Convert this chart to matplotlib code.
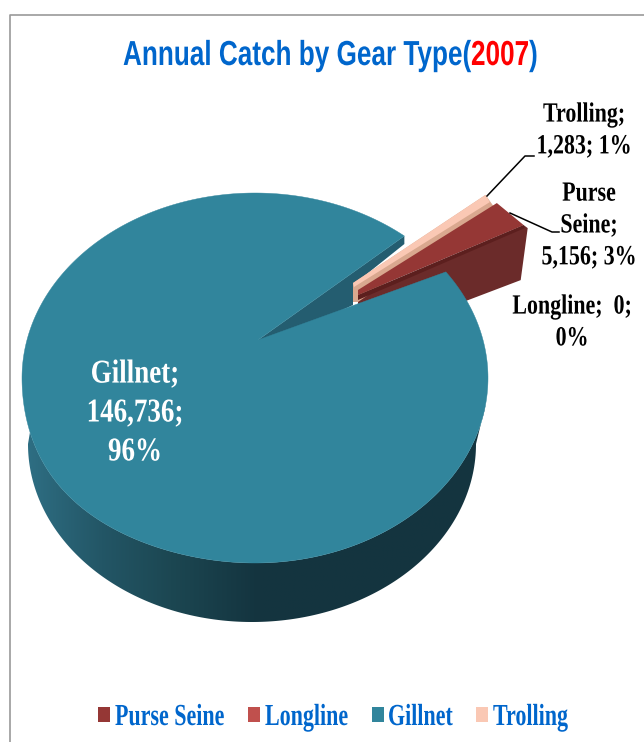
import numpy as np
import matplotlib
matplotlib.use("Agg")
import matplotlib.pyplot as plt
from matplotlib.colors import LinearSegmentedColormap
from matplotlib.patches import Polygon, Rectangle
from matplotlib.patheffects import AbstractPathEffect
from matplotlib.text import Text
from matplotlib.transforms import Affine2D, Bbox

# Catch by gear type, 2007
gears = ["Purse Seine", "Longline", "Gillnet", "Trolling"]
catch = [5156, 0, 146736, 1283]
shares = ["3%", "0%", "96%", "1%"]
colors = ["#953735", "#c0504d", "#31859c", "#fac8b4"]
side_colors = ["#6b2b2a", "#5c1f1e", "#245d70", "#d9a88f"]
legend_box_x = [98, 248, 372, 476]
legend_text_x = [115, 265, 388, 493]

BLUE = "#0066cc"
SERIF = ["Liberation Serif", "DejaVu Serif"]
SANS = ["Liberation Sans", "DejaVu Sans"]

# Pie geometry in pixel units
CX, CY, RX, RY = 255.0, 378.0, 233.0, 185.0
BX, BY, BRX, BRY = 252.0, 444.0, 224.0, 178.0
APEX = np.array([258.0, 340.0])
SMALL_APEX = np.array([358.0, 290.0])
SMALL_SCALE = 0.8
SMALL_SHIFT = np.array([116.0, -68.0])
SMALL_DEPTH = 52.0
START_DEG = 35.0


class _LineSqueeze(AbstractPathEffect):
    """Condense each drawn line of glyphs about the line's own origin."""

    def __init__(self, factor):
        super().__init__()
        self.factor = factor

    def draw_path(self, renderer, gc, tpath, affine, rgbFace=None):
        x0 = affine.get_matrix()[0, 2]
        narrowed = affine + Affine2D().translate(-x0, 0).scale(self.factor, 1).translate(x0, 0)
        renderer.draw_path(gc, tpath, narrowed, rgbFace)


class NarrowText(Text):
    """Text whose layout and glyphs are condensed horizontally by a fixed factor."""

    def __init__(self, x, y, s, squeeze=0.8, **kw):
        super().__init__(x, y, s, **kw)
        self.squeeze = squeeze
        self.set_path_effects([_LineSqueeze(squeeze)])

    def _get_layout(self, renderer):
        box, info, descent = super()._get_layout(renderer)
        k = self.squeeze
        narrow_box = Bbox([[box.x0 * k, box.y0], [box.x1 * k, box.y1]])
        narrow_info = [(line, (wh[0] * k, wh[1]), x * k, y) for line, wh, x, y in info]
        return narrow_box, narrow_info, descent


def rim(deg, scale=1.0, shift=(0.0, 0.0)):
    t = np.radians(np.atleast_1d(deg))
    x = CX + scale * RX * np.cos(t) + shift[0]
    y = CY - scale * RY * np.sin(t) + shift[1]
    # The lower left of the top face bulges slightly under the tilt
    lower_left = (t % (2 * np.pi) > np.pi) & (t % (2 * np.pi) < 1.5 * np.pi)
    x = x - np.where(lower_left, 7.0 * np.sin(2 * t) ** 2, 0.0)
    return np.column_stack([x, y])


def base(deg):
    t = np.radians(np.atleast_1d(deg))
    return np.column_stack([BX + BRX * np.cos(t), BY - BRY * np.sin(t)])


fig = plt.figure(figsize=(6.44, 7.42), dpi=100)
ax = fig.add_axes([0, 0, 1, 1])
ax.set_xlim(0, 644)
ax.set_ylim(742, 0)
ax.axis("off")


def put(x, y, s, squeeze, **kw):
    t = NarrowText(x, y, s, squeeze=squeeze, zorder=7, **kw)
    ax.add_artist(t)
    t.set_clip_on(False)
    return t


# Chart frame: only the top and left edges fall inside the canvas
ax.plot([10, 10, 644], [742, 14.5, 14.5], color="#9a9a9a", lw=1.2, zorder=1)

# Sweep of each slice, counter-clockwise from the notch
total = sum(catch)
sweep = {g: v / total * 360.0 for g, v in zip(gears, catch)}
purse_a0 = START_DEG
purse_a1 = purse_a0 + sweep["Purse Seine"]
long_a1 = purse_a1 + sweep["Longline"]
troll_a1 = long_a1 + sweep["Trolling"]
gill_a0 = troll_a1
gill_a1 = gill_a0 + sweep["Gillnet"]

# Detached small slices sit behind the big slice
p0 = rim(purse_a0, SMALL_SCALE, SMALL_SHIFT)[0]
p1 = rim(purse_a1, SMALL_SCALE, SMALL_SHIFT)[0] + [-1, 1.5]
t0 = rim(long_a1, SMALL_SCALE, SMALL_SHIFT)[0] + [-8, 0.5]
t1 = rim(troll_a1, SMALL_SCALE, SMALL_SHIFT)[0] + [-5, -1.5]
troll_apex = SMALL_APEX + [-5, -7]

ax.add_patch(Polygon([SMALL_APEX + [0, 6], p0, p0 + [4, 3], p0 + [-3, SMALL_DEPTH + 3],
                      SMALL_APEX + [0, SMALL_DEPTH]],
                     fc=side_colors[0], ec="none", zorder=3))
ax.add_patch(Polygon([troll_apex, t1, t0 + [5, 6], SMALL_APEX + [0, 12], troll_apex + [0, 19]],
                     fc=side_colors[3], ec="none", zorder=3))
ax.add_patch(Polygon([troll_apex, t1, t0, troll_apex + [1, 4]],
                     fc=colors[3], ec="none", zorder=3.2))
ax.add_patch(Polygon([SMALL_APEX, p1, p0, SMALL_APEX + [0, 5]],
                     fc=colors[0], ec="none", zorder=3.3))
ax.add_patch(Polygon([SMALL_APEX + [0, 5], p0, p0 + [1, 3], SMALL_APEX + [0, 10]],
                     fc=side_colors[1], ec="none", zorder=3.4))

# Rim wall of the big slice, with a dark ramp running left to right
wall_cmap = LinearSegmentedColormap.from_list(
    "wall", [(0.0, "#2f7085"), (0.17, "#235666"), (0.32, "#1c4752"),
             (0.51, "#14343f"), (1.0, "#143540")])
wall_edge = np.vstack([rim(np.linspace(197, 352, 300)), base(np.linspace(360, 180, 300))])
wall_clip = Polygon(wall_edge, fc="none", ec="none", transform=ax.transData, zorder=4)
ax.add_patch(wall_clip)
ramp = ax.imshow(np.linspace(0, 1, 256)[None, :], cmap=wall_cmap, aspect="auto",
                 extent=(22, 487, 630, 380), zorder=4, interpolation="bilinear")
ramp.set_clip_path(wall_clip)
ax.set_xlim(0, 644)
ax.set_ylim(742, 0)

# Inner wall seen through the notch
n = rim(gill_a0)[0]
ax.add_patch(Polygon([APEX, n, n + [0, 8], troll_apex + [0, 2], troll_apex + [0, 22], APEX + [0, 10]],
                     fc=side_colors[2], ec="none", zorder=2))

# Top face of the big slice
arc = rim(np.linspace(gill_a0, gill_a1, 500))
ax.add_patch(Polygon(np.vstack([APEX, arc]), fc=colors[2], ec=colors[2], lw=0.3, zorder=5))

# Title in three colored runs, laid end to end
renderer = fig.canvas.get_renderer()
cursor = 123.0
for piece, col in zip(["Annual Catch by Gear Type(", "2007", ")"], [BLUE, "#ff0000", BLUE]):
    run = put(cursor, 65, piece, 0.753, color=col, fontsize=25, fontweight="bold",
              family=SANS, ha="left", va="baseline")
    cursor = run.get_window_extent(renderer).x1

# Slice labels
label_kw = dict(family=SERIF, fontweight="bold", ha="center", va="center")
put(135, 413, f"{gears[2]};\n{catch[2]:,};\n{shares[2]}", 0.81, color="white",
    fontsize=24, linespacing=1.33, **label_kw)
put(584, 131, f"{gears[3]};\n{catch[3]:,}; {shares[3]}", 0.79, color="black",
    fontsize=20, linespacing=1.36, **label_kw)
put(589, 226, f"Purse\nSeine;\n{catch[0]:,}; {shares[0]}", 0.79, color="black",
    fontsize=20, linespacing=1.36, **label_kw)
put(572, 323, f"{gears[1]};  {catch[1]};\n{shares[1]}", 0.79, color="black",
    fontsize=20, linespacing=1.36, **label_kw)

# Leader lines
ax.plot([487, 525, 534], [196, 156, 156], color="black", lw=1.1, zorder=6)
ax.plot([510, 552, 559], [213, 232, 232], color="black", lw=1.1, zorder=6)

# Legend row
for bx, tx, g, c in zip(legend_box_x, legend_text_x, gears, colors):
    ax.add_patch(Rectangle((bx, 707), 12, 15, fc=c, ec="none", zorder=6))
    put(tx, 725, g, 0.72, color=BLUE, fontsize=22, family=SERIF, fontweight="bold",
        ha="left", va="baseline")

fig.savefig("out.png", dpi=100)
